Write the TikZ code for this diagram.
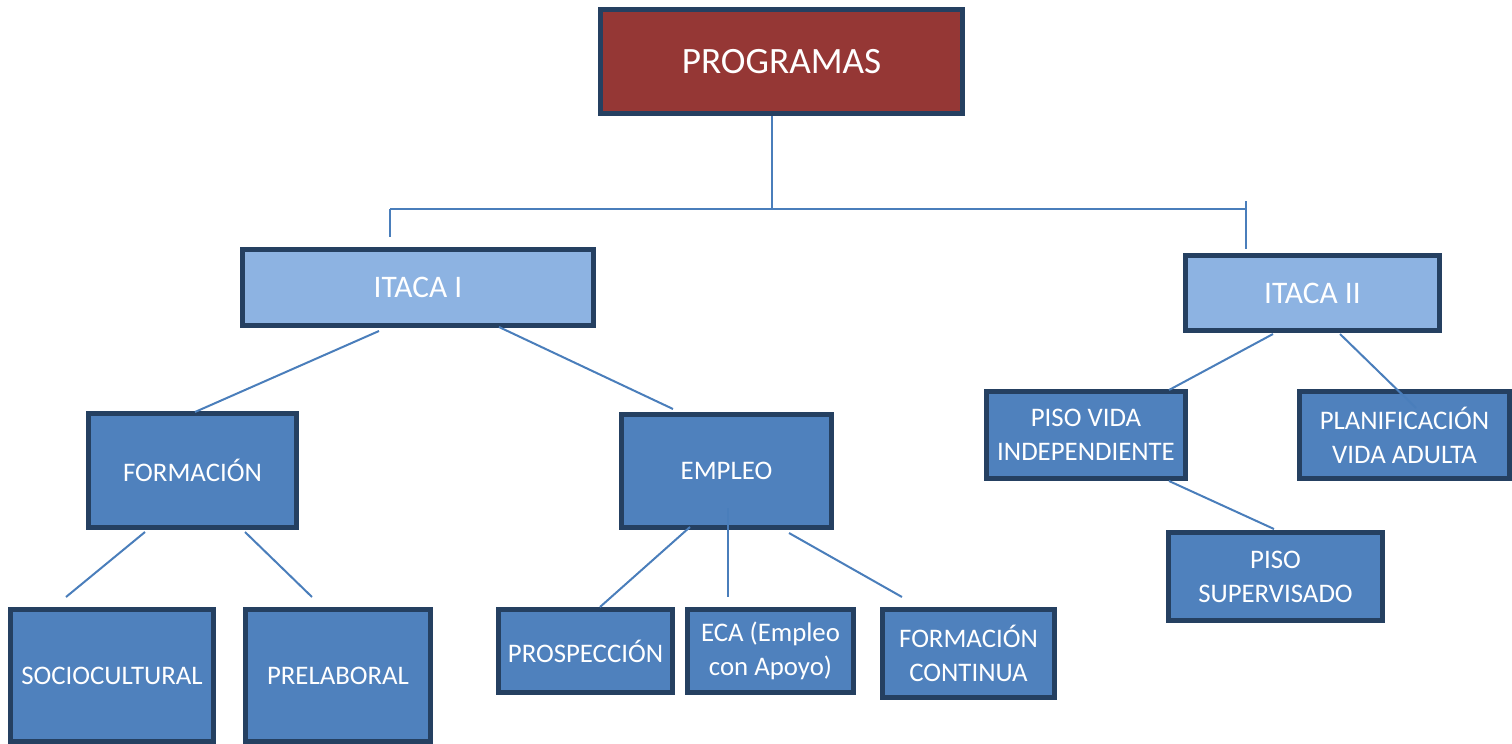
\documentclass[tikz,border=0pt]{standalone}
\usepackage{fontspec}
\setmainfont{Carlito}
\usetikzlibrary{calc}
\definecolor{bordc}{HTML}{254061}
\definecolor{redf}{HTML}{953735}
\definecolor{lightf}{HTML}{8DB3E2}
\definecolor{midf}{HTML}{4F81BD}
\definecolor{linec}{HTML}{4A7EBB}
\tikzset{
  boxbase/.style={draw=bordc, line width=2.5pt, rectangle, inner sep=0pt, text=white, align=center},
  topbox/.style={boxbase, fill=redf, font=\fontsize{18.6}{22}\selectfont},
  lvlbox/.style={boxbase, fill=lightf, font=\fontsize{15.7}{19}\selectfont},
  leafbox/.style={boxbase, fill=midf, font=\fontsize{13.4}{17}\selectfont},
  conn/.style={draw=linec, line width=1pt}
}
\begin{document}
\begin{tikzpicture}[x=0.5pt, y=-0.5pt]
\useasboundingbox (0,0) rectangle (1512,744);
% nodes
\node[topbox, minimum width=181pt, minimum height=52pt] (prog) at (781.5,61.5) {PROGRAMAS};
\node[lvlbox, minimum width=175.5pt, minimum height=38pt] (itaca1) at (418,287.5) {ITACA I};
\node[lvlbox, minimum width=127pt, minimum height=37.5pt] (itaca2) at (1312.5,293) {ITACA II};
\node[leafbox, minimum width=104pt, minimum height=57pt] (form) at (192.5,470.5) {FORMACIÓN};
\node[leafbox, minimum width=105pt, minimum height=56.5pt] (empleo) at (726.5,471) {EMPLEO};
\node[leafbox, minimum width=101.5pt, minimum height=66pt] (socio) at (112,675.5) {SOCIOCULTURAL};
\node[leafbox, minimum width=92.5pt, minimum height=66pt] (prelab) at (338,675.5) {PRELABORAL};
\node[leafbox, minimum width=87pt, minimum height=41.5pt] (prosp) at (585.5,651) {PROSPECCIÓN};
\node[leafbox, minimum width=83pt, minimum height=41.5pt] (eca) at (770.5,651) {ECA (Empleo\\con Apoyo)};
\node[leafbox, minimum width=86pt, minimum height=44pt] (fc) at (968.5,653.5) {FORMACIÓN\\CONTINUA};
\node[leafbox, minimum width=99.5pt, minimum height=43.5pt] (piso) at (1086,435) {PISO VIDA\\INDEPENDIENTE};
\node[leafbox, minimum width=105pt, minimum height=43.5pt] (plan) at (1404.5,435) {PLANIFICACIÓN\\VIDA ADULTA};
\node[leafbox, minimum width=107pt, minimum height=44pt] (sup) at (1275.5,576.5) {PISO\\SUPERVISADO};
% junctions
\coordinate (j) at (772,209);
\coordinate (jl) at (390,209);
\coordinate (jr) at (1246,209);
% connectors
\draw[conn] (prog.south -| j) -- (j);
\draw[conn] (jl) -- (jr);
\draw[conn] (jl) -- ($(itaca1.north -| jl)+(0,-10)$);
\draw[conn] ($(jr)+(0,-8)$) -- ($(itaca2.north -| jr)+(0,-4)$);
\draw[conn] ($(itaca1.south)+(-39,3)$) -- ($(form.north)+(2.5,1)$);
\draw[conn] ($(itaca1.south)+(81,-1)$) -- ($(empleo.north)+(-53.5,-3)$);
\draw[conn] ($(form.south)+(-47.5,2)$) -- ($(socio.north)+(-46,-10)$);
\draw[conn] ($(form.south)+(52.5,2)$) -- ($(prelab.north)+(-26,-10)$);
\draw[conn] ($(empleo.south)+(-36.5,-3)$) -- ($(prosp.north)+(14.5,0)$);
\draw[conn] ($(empleo.south)+(1.5,-22)$) -- ($(eca.north)+(-42.5,-10)$);
\draw[conn] ($(empleo.south)+(62.5,3)$) -- ($(fc.north)+(-66.5,-10)$);
\draw[conn] ($(itaca2.south)+(-39.5,1)$) -- ($(piso.north)+(83,1)$);
\draw[conn] ($(itaca2.south)+(27.5,1)$) -- ($(plan.north)+(11.5,19)$);
\draw[conn] ($(piso.south)+(83,0)$) -- ($(sup.north)+(-1.5,-1)$);
\end{tikzpicture}
\end{document}
